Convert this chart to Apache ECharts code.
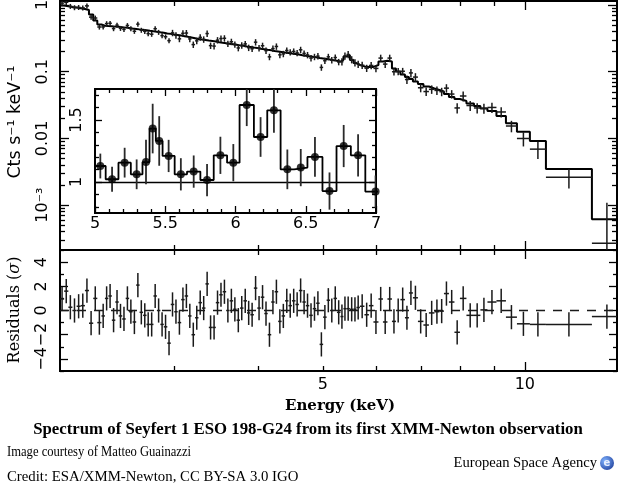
<!DOCTYPE html>
<html><head><meta charset="utf-8">
<script src="https://cdn.jsdelivr.net/npm/echarts@6/dist/echarts.min.js"></script>
<style>html,body{margin:0;padding:0;background:#fff}#c{width:622px;height:488px}</style>
</head><body><div id="c"></div>
<script>
// ---------------- data ----------------
// energy bin edges (keV), 117 bins
const binEdges = [2.028,2.057,2.087,2.116,2.147,2.177,2.209,2.240,2.273,2.305,2.338,
2.366,2.394,2.423,2.452,2.481,2.511,2.541,2.571,2.602,2.634,
2.665,2.697,2.729,2.761,2.795,2.828,2.862,2.896,2.931,2.966,
3.002,3.037,3.074,3.111,3.148,3.185,3.224,3.262,3.301,3.341,
3.380,3.421,3.462,3.503,3.545,3.587,3.630,3.674,3.718,3.762,
3.807,3.853,3.898,3.945,3.992,4.040,4.089,4.137,4.187,4.237,
4.288,4.339,4.391,4.443,4.496,4.550,4.604,4.660,4.715,4.771,
4.829,4.886,4.944,5.004,5.064,5.124,5.186,5.247,5.310,
5.365,5.421,5.485,5.553,5.610,5.677,5.766,5.855,5.947,6.050,
6.144,6.240,6.337,6.425,6.524,6.626,6.717,6.810,6.928,7.060,
7.194,7.332,7.458,7.575,7.706,7.853,8.002,8.183,8.397,8.585,
8.795,9.071,9.371,9.732,10.174,10.750,12.588,13.952];
// observed count rate (cts/s/keV)
const flux = [1.068,1.098,0.955,0.914,0.920,0.902,0.970,0.658,0.638,0.468,
0.469,0.526,0.532,0.443,0.499,0.447,0.431,0.493,0.441,0.404,
0.516,0.419,0.403,0.372,0.365,0.441,0.390,0.347,0.334,0.292,
0.382,0.351,0.311,0.376,0.380,0.310,0.255,0.290,0.327,0.305,
0.373,0.246,0.242,0.297,0.314,0.317,0.263,0.281,0.256,0.227,
0.249,0.261,0.229,0.221,0.277,0.226,0.245,0.207,0.167,0.222,
0.239,0.179,0.185,0.208,0.196,0.201,0.191,0.213,0.188,0.178,
0.160,0.167,0.171,0.116,0.146,0.167,0.149,0.163,0.140,0.141,
0.172,0.181,0.152,0.137,0.130,0.125,0.113,0.124,0.112,0.160,
0.130,0.160,0.0999,0.1007,0.1015,0.0763,0.0959,0.0830,0.0574,0.0504,
0.0544,0.0524,0.0501,0.0567,0.0462,0.0286,0.0432,0.0311,0.0286,0.0283,
0.0291,0.0249,0.01534,0.00997,0.0069,0.002611,0.000268];
const fluxErr = [0.0922,0.0947,0.0824,0.0789,0.0794,0.0778,0.0837,0.0568,0.0551,0.0404,
0.0405,0.0454,0.0459,0.0382,0.0430,0.0386,0.0372,0.0425,0.0380,0.0348,
0.0446,0.0362,0.0348,0.0321,0.0315,0.0381,0.0336,0.0299,0.0288,0.0252,
0.0422,0.0388,0.0344,0.0416,0.0419,0.0342,0.0282,0.0321,0.0361,0.0337,
0.0412,0.0272,0.0268,0.0329,0.0347,0.0351,0.0291,0.0311,0.0283,0.0251,
0.0275,0.0288,0.0253,0.0244,0.0306,0.0250,0.0270,0.0229,0.0185,0.0245,
0.0264,0.0198,0.0204,0.0230,0.0216,0.0222,0.0211,0.0235,0.0207,0.0196,
0.0177,0.0184,0.0189,0.0128,0.0161,0.0184,0.0165,0.0180,0.0154,0.0175,
0.0214,0.0225,0.0188,0.0170,0.0162,0.0155,0.0140,0.0154,0.0139,0.0199,
0.0161,0.0199,0.0124,0.0125,0.0126,0.0111,0.0139,0.0120,0.00832,0.00731,
0.00789,0.00760,0.00726,0.00822,0.00670,0.00494,0.00746,0.00537,0.00494,0.00488,
0.00502,0.00430,0.0030,0.0024,0.0020,0.00083,0.00082];
// folded model (cts/s/keV)
const model = [0.983,0.956,0.933,0.914,0.892,0.871,0.842,0.720,0.586,0.510,
0.488,0.483,0.479,0.474,0.470,0.465,0.458,0.452,0.444,0.438,
0.431,0.425,0.418,0.410,0.403,0.398,0.390,0.383,0.375,0.369,
0.361,0.355,0.348,0.341,0.333,0.326,0.318,0.310,0.304,0.299,
0.293,0.288,0.283,0.277,0.272,0.268,0.263,0.258,0.253,0.248,
0.244,0.239,0.235,0.230,0.226,0.221,0.217,0.213,0.209,0.205,
0.2015,0.198,0.194,0.191,0.187,0.184,0.181,0.177,0.174,0.170,
0.167,0.164,0.160,0.158,0.155,0.152,0.149,0.146,0.142,0.150,
0.169,0.178,0.150,0.135,0.126,0.120,0.118,0.118,0.126,0.142,
0.146,0.142,0.112,0.101,0.0908,0.0833,0.0777,0.0713,0.0654,0.0600,
0.0560,0.0532,0.0505,0.0463,0.0417,0.0389,0.0364,0.0334,0.0306,0.0281,
0.0257,0.0217,0.01684,0.01260,0.00914,0.003477,0.000612];
// residuals (sigma); each has a 1-sigma error bar
const resid = [0.96,1.6,0.27,0,0.35,0.4,1.65,-1.05,1,-1,
-0.45,1,1.2,-0.8,0.7,-0.45,-0.7,1,-0.1,-0.95,
2.1,-0.15,-0.4,-1.15,-1.15,1.2,0,-1.15,-1.35,-2.7,
0.5,-0.1,-1,0.9,1.2,-0.45,-2,-0.6,0.65,0.2,
2.2,-1.4,-1.4,0.65,1.3,1.55,0,0.8,0.1,-0.8,
0.2,0.8,-0.2,-0.35,1.85,0.2,1.1,-0.25,-2.0,0.7,
1.55,-0.9,-0.45,0.8,0.4,0.8,0.5,1.65,0.7,0.4,
-0.4,0.15,0.6,-2.8,-0.55,0.85,0,1,-0.15,-0.5,
0.15,0.15,0.1,0.1,0.25,0.35,-0.35,0.4,-0.95,0.95,
-0.95,0.95,-0.9,0,0.9,-0.6,1.45,1.05,-0.9,-1.2,
-0.2,-0.1,-0.05,1.4,0.7,-1.8,1,-0.4,-0.4,0.05,
0.7,0.8,-0.55,-1.1,-1.15,-1.15,-0.5];
const residSigma = 1;
// inset: data / continuum ratio, 5-7 keV
const insetEdges = [5.000,5.076,5.167,5.255,5.338,5.388,5.433,5.481,5.567,5.655,5.750,5.845,
5.940,6.029,6.131,6.226,6.321,6.417,6.512,6.619,6.719,6.821,6.924,7.070];
const insetRatio = [1.129,1.022,1.156,1.062,1.161,1.431,1.331,1.210,1.062,1.084,1.016,1.215,
1.156,1.621,1.363,1.578,1.102,1.116,1.202,0.927,1.290,1.215,0.923];
const insetErr = [0.10,0.10,0.12,0.12,0.18,0.20,0.20,0.13,0.13,0.13,0.13,0.15,
0.15,0.17,0.16,0.18,0.16,0.15,0.16,0.15,0.17,0.17,0.13];
// axis ranges and tick labels
const energyRange = [2.028, 13.72];
const fluxRange = [2.122e-4, 1.148];
const residRange = [-5, 5];
const insetXRange = [5, 7];
const insetYRange = [0.75, 1.75];
const energyLabelValues = [5, 10];
const energyLabelText = ['5', '10'];
const energyMajorTicks = [10];
const energyMinorTicks = [3, 4, 5, 6, 7, 8, 9];
const fluxLabelValues = [0.001, 0.01, 0.1, 1];
const fluxLabelText = ['10\u207B\u00B3', '0.01', '0.1', '1'];
const residLabelValues = [-4, -2, 0, 2, 4];
const residLabelText = ['\u22124', '\u22122', '0', '2', '4'];
const residMinorTicks = [-5, -3, -1, 1, 3, 5];
const insetXLabelValues = [5, 5.5, 6, 6.5, 7];
const insetXLabelText = ['5', '5.5', '6', '6.5', '7'];
const insetYLabelValues = [1, 1.5];
const insetYLabelText = ['1', '1.5'];

// ---------------- build ----------------
const L = Math.log10;
const n = Math.min(flux.length, fluxErr.length, model.length, resid.length, binEdges.length - 1);
const modelLine = [], mainCross = [], residCross = [];
for (let i = 0; i < n; i++) {
  const lo = binEdges[i], hi = binEdges[i + 1], c = Math.sqrt(lo * hi);
  modelLine.push([L(lo), L(model[i])], [L(hi), L(model[i])]);
  const fl = flux[i] - fluxErr[i];
  mainCross.push([L(c), L(flux[i]), L(lo), L(hi), fl > 0 ? L(fl) : -10, L(flux[i] + fluxErr[i])]);
  residCross.push([L(c), resid[i], L(lo), L(hi), resid[i] - residSigma, resid[i] + residSigma]);
}
const insetStep = [], insetPts = [], insetBars = [];
for (let i = 0; i < insetRatio.length; i++) {
  const lo = insetEdges[i], hi = insetEdges[i + 1], c = (lo + hi) / 2;
  insetStep.push([lo, insetRatio[i]], [hi, insetRatio[i]]);
  insetPts.push([c, insetRatio[i]]);
  insetBars.push([c, insetRatio[i] - insetErr[i], insetRatio[i] + insetErr[i]]);
}
// minor ticks
const fluxMinor = [];
for (let d = -4; d <= 0; d++) for (let k = 2; k <= 9; k++) fluxMinor.push(L(k * Math.pow(10, d)));
const insetXMinor = [], insetYMinor = [];
for (let k = 50; k <= 70; k++) if (k % 5) insetXMinor.push(k / 10);
for (let k = 8; k <= 17; k++) if (k % 5) insetYMinor.push(k / 10);

const TICK_FONT = 'DejaVu Sans';
function nearestLabel(vals, texts) {
  return function (v) {
    let bi = 0, bd = Infinity;
    vals.forEach((x, i) => { const d = Math.abs(x - v); if (d < bd) { bd = d; bi = i; } });
    return texts[bi];
  };
}
function axis(gridIndex, position, min, max, ticks, len, label) {
  return {
    type: 'value', gridIndex, position, min, max,
    splitLine: { show: false }, minorTick: { show: false }, minorSplitLine: { show: false },
    axisLine: { show: true, onZero: false, lineStyle: { color: '#000', width: 2 } },
    axisTick: { show: true, inside: true, length: len, customValues: ticks, lineStyle: { color: '#000', width: 1.3 } },
    axisLabel: label ? Object.assign({ show: true, color: '#000', fontFamily: TICK_FONT, fontSize: 16 }, label) : { show: false },
    axisPointer: { show: false }, silent: true
  };
}
const XMIN = L(energyRange[0]), XMAX = L(energyRange[1]);
const YMIN = L(fluxRange[0]), YMAX = L(fluxRange[1]);
const eMaj = energyMajorTicks.map(L), eMin = energyMinorTicks.map(L);

const xAxes = [
  // main panel (grid 0)
  axis(0, 'bottom', XMIN, XMAX, eMaj, 9), axis(0, 'bottom', XMIN, XMAX, eMin, 5),
  axis(0, 'top', XMIN, XMAX, eMaj, 9), axis(0, 'top', XMIN, XMAX, eMin, 5),
  // residual panel (grid 1)
  axis(1, 'bottom', XMIN, XMAX, eMaj, 9, { customValues: energyLabelValues.map(L), margin: 6,
    formatter: nearestLabel(energyLabelValues.map(L), energyLabelText) }),
  axis(1, 'bottom', XMIN, XMAX, eMin, 5),
  axis(1, 'top', XMIN, XMAX, eMaj, 9), axis(1, 'top', XMIN, XMAX, eMin, 5),
  // inset (grid 2)
  axis(2, 'bottom', insetXRange[0], insetXRange[1], insetXLabelValues, 7, { customValues: insetXLabelValues, margin: 3,
    formatter: nearestLabel(insetXLabelValues, insetXLabelText) }),
  axis(2, 'bottom', insetXRange[0], insetXRange[1], insetXMinor, 4),
  axis(2, 'top', insetXRange[0], insetXRange[1], insetXLabelValues, 7),
  axis(2, 'top', insetXRange[0], insetXRange[1], insetXMinor, 4)
];
const yAxes = [
  axis(0, 'left', YMIN, YMAX, fluxLabelValues.map(L), 9, { customValues: fluxLabelValues.map(L), rotate: 90, margin: 9,
    formatter: nearestLabel(fluxLabelValues.map(L), fluxLabelText) }),
  axis(0, 'left', YMIN, YMAX, fluxMinor, 5),
  axis(0, 'right', YMIN, YMAX, fluxLabelValues.map(L), 9), axis(0, 'right', YMIN, YMAX, fluxMinor, 5),
  axis(1, 'left', residRange[0], residRange[1], residLabelValues, 8, { customValues: residLabelValues, rotate: 90, margin: 10,
    formatter: nearestLabel(residLabelValues, residLabelText) }),
  axis(1, 'left', residRange[0], residRange[1], residMinorTicks, 4),
  axis(1, 'right', residRange[0], residRange[1], residLabelValues, 8),
  axis(1, 'right', residRange[0], residRange[1], residMinorTicks, 4),
  axis(2, 'left', insetYRange[0], insetYRange[1], insetYLabelValues, 7, { customValues: insetYLabelValues, rotate: 90, margin: 10,
    formatter: nearestLabel(insetYLabelValues, insetYLabelText) }),
  axis(2, 'left', insetYRange[0], insetYRange[1], insetYMinor, 4),
  axis(2, 'right', insetYRange[0], insetYRange[1], insetYLabelValues, 7),
  axis(2, 'right', insetYRange[0], insetYRange[1], insetYMinor, 4)
];

function crossRender(params, api) {
  const y = api.value(1);
  const pL = api.coord([api.value(2), y]), pR = api.coord([api.value(3), y]);
  const pB = api.coord([api.value(0), api.value(4)]), pT = api.coord([api.value(0), api.value(5)]);
  return { type: 'group', children: [
    { type: 'line', shape: { x1: pL[0], y1: pL[1], x2: pR[0], y2: pR[1] }, style: { stroke: '#1a1a1a', lineWidth: 1.5 } },
    { type: 'line', shape: { x1: pB[0], y1: pB[1], x2: pT[0], y2: pT[1] }, style: { stroke: '#1a1a1a', lineWidth: 1.5 } }
  ] };
}
function barRender(params, api) {
  const a = api.coord([api.value(0), api.value(1)]), b = api.coord([api.value(0), api.value(2)]);
  return { type: 'line', shape: { x1: a[0], y1: a[1], x2: b[0], y2: b[1] }, style: { stroke: '#2a2a2a', lineWidth: 1.8 } };
}

const SERIF = '"DejaVu Serif", serif';
const TIMES = '"Liberation Serif", "Times New Roman", serif';
const option = {
  animation: false,
  backgroundColor: '#fff',
  grid: [
    { left: 60, top: 1, width: 557, height: 249, outerBoundsMode: 'none', containLabel: false },
    { left: 60, top: 250, width: 557, height: 121, outerBoundsMode: 'none', containLabel: false },
    { left: 95, top: 89, width: 281, height: 124, outerBoundsMode: 'none', containLabel: false,
      show: true, backgroundColor: '#fff', borderWidth: 0 }
  ],
  xAxis: xAxes,
  yAxis: yAxes,
  series: [
    { type: 'line', xAxisIndex: 0, yAxisIndex: 0, data: modelLine, symbol: 'none', showSymbol: false,
      lineStyle: { color: '#000', width: 2 }, clip: true, silent: true, z: 3 },
    { type: 'custom', xAxisIndex: 0, yAxisIndex: 0, data: mainCross, renderItem: crossRender,
      encode: { x: 0, y: 1 }, clip: true, silent: true, z: 4 },
    { type: 'custom', xAxisIndex: 4, yAxisIndex: 4, data: residCross, renderItem: crossRender,
      encode: { x: 0, y: 1 }, clip: true, silent: true, z: 4,
      markLine: { silent: true, symbol: ['none', 'none'], label: { show: false },
        lineStyle: { color: '#1a1a1a', width: 1.4, type: [9, 8] }, data: [{ yAxis: 0 }], animation: false } },
    { type: 'line', xAxisIndex: 8, yAxisIndex: 8, data: insetStep, symbol: 'none', showSymbol: false,
      lineStyle: { color: '#000', width: 1.8 }, clip: true, silent: true, z: 5,
      markLine: { silent: true, symbol: ['none', 'none'], label: { show: false },
        lineStyle: { color: '#000', width: 1.4, type: 'solid' }, data: [{ yAxis: 1 }], animation: false } },
    { type: 'custom', xAxisIndex: 8, yAxisIndex: 8, data: insetBars, renderItem: barRender,
      encode: { x: 0, y: 1 }, clip: true, silent: true, z: 6 },
    { type: 'scatter', xAxisIndex: 8, yAxisIndex: 8, data: insetPts, symbol: 'circle', symbolSize: 8,
      itemStyle: { color: '#000' }, silent: true, z: 7 }
  ],
  graphic: { elements: [
    { type: 'text', x: 15, y: 122, rotation: Math.PI / 2, silent: true,
      style: { text: 'Cts s\u207B\u00B9 keV\u207B\u00B9', fontFamily: TICK_FONT, fontSize: 17.5, fill: '#000',
        align: 'center', verticalAlign: 'middle', textAlign: 'center', textVerticalAlign: 'middle' } },
    { type: 'text', x: 15, y: 310, rotation: Math.PI / 2, silent: true,
      style: { text: 'Residuals ({i|\u03C3})', fontFamily: SERIF, fontSize: 16, fill: '#000',
        rich: { i: { fontFamily: SERIF, fontSize: 16, fontStyle: 'italic', fill: '#000' } },
        align: 'center', verticalAlign: 'middle', textAlign: 'center', textVerticalAlign: 'middle' } },
    { type: 'text', x: 340, y: 406, silent: true,
      style: { text: 'Energy (keV)', fontFamily: SERIF, fontSize: 15, fontWeight: 'bold', fill: '#000',
        align: 'center', verticalAlign: 'middle', textAlign: 'center', textVerticalAlign: 'middle' } },
    { type: 'text', x: 308, y: 430, silent: true,
      style: { text: 'Spectrum of Seyfert 1 ESO 198-G24 from its first XMM-Newton observation',
        fontFamily: TIMES, fontSize: 16.8, fontWeight: 'bold', fill: '#000',
        align: 'center', verticalAlign: 'middle', textAlign: 'center', textVerticalAlign: 'middle' } },
    { type: 'text', x: 7, y: 452, scaleX: 0.9, silent: true,
      style: { text: 'Image courtesy of Matteo Guainazzi', fontFamily: TIMES, fontSize: 14, fill: '#000',
        align: 'left', verticalAlign: 'middle', textAlign: 'left', textVerticalAlign: 'middle' } },
    { type: 'text', x: 7, y: 477, silent: true,
      style: { text: 'Credit: ESA/XMM-Newton, CC BY-SA 3.0 IGO', fontFamily: TIMES, fontSize: 14.8, fill: '#000',
        align: 'left', verticalAlign: 'middle', textAlign: 'left', textVerticalAlign: 'middle' } },
    { type: 'text', x: 597, y: 463, silent: true,
      style: { text: 'European Space Agency', fontFamily: TIMES, fontSize: 14.6, fill: '#000',
        align: 'right', verticalAlign: 'middle', textAlign: 'right', textVerticalAlign: 'middle' } },
    { type: 'circle', shape: { cx: 607, cy: 463, r: 7 }, silent: true,
      style: { fill: { type: 'radial', x: 0.35, y: 0.35, r: 0.8,
        colorStops: [{ offset: 0, color: '#7fb2ff' }, { offset: 1, color: '#1f3f9a' }] } } },
    { type: 'text', x: 607, y: 463, silent: true,
      style: { text: 'e', fontFamily: TICK_FONT, fontSize: 10, fontWeight: 'bold', fill: '#e8f0ff',
        align: 'center', verticalAlign: 'middle', textAlign: 'center', textVerticalAlign: 'middle' } }
  ] }
};
const chart = echarts.init(document.getElementById('c'), null, { renderer: 'canvas' });
chart.setOption(option);
</script>
</body></html>
